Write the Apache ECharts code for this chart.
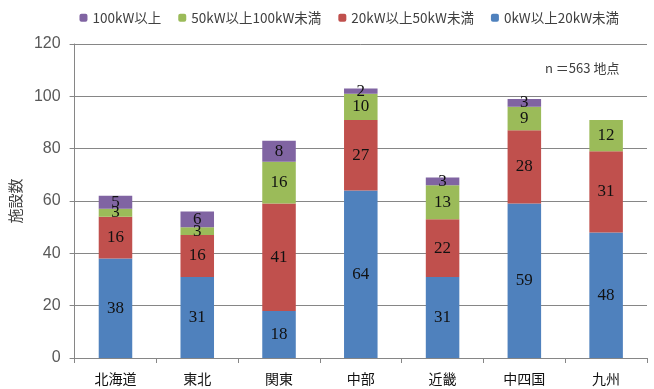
<!DOCTYPE html>
<html><head><meta charset="utf-8">
<script src="https://cdn.jsdelivr.net/npm/echarts@6/dist/echarts.min.js"></script>
<style>html,body{margin:0;padding:0;background:#fff}#c{width:654px;height:389px}</style>
</head><body><div id="c"></div>
<script>
const categories = ['北海道','東北','関東','中部','近畿','中四国','九州'];
const s0to20 = [38,31,18,64,31,59,48];
const s20to50 = [16,16,41,27,22,28,31];
const s50to100 = [3,3,16,10,13,9,12];
const s100up = [5,6,8,2,3,3,0];
const seriesNames = ['0kW以上20kW未満','20kW以上50kW未満','50kW以上100kW未満','100kW以上'];
const colors = ['#4F81BD','#C0504D','#9BBB59','#8064A2'];
const yTicks = {min:0,max:120,interval:20};

const chart = echarts.init(document.getElementById('c'));
const data = [s0to20, s20to50, s50to100, s100up];
const labelStyle = {show:true, position:'inside', color:'#111', fontFamily:'Liberation Serif, DejaVu Serif, serif', fontSize:17,
  formatter: p => p.value ? String(p.value) : ''};
chart.setOption({
  animation:false,
  legend:{top:6,right:30,itemWidth:8,itemHeight:8,itemGap:17,
    textStyle:{fontSize:13.5,color:'#404040',fontFamily:'Noto Sans CJK JP, sans-serif'},
    data:['100kW以上','50kW以上100kW未満','20kW以上50kW未満','0kW以上20kW未満']},
  grid:{left:69,right:7,top:44,bottom:31},
  xAxis:{type:'category',data:categories,
    axisLine:{lineStyle:{color:'#868686'}},
    axisTick:{show:true,length:5,lineStyle:{color:'#868686'}},
    axisLabel:{fontSize:14,color:'#111',margin:14,fontFamily:'Noto Sans CJK JP, sans-serif'}},
  yAxis:{type:'value',min:yTicks.min,max:yTicks.max,interval:yTicks.interval,
    name:'施設数',nameLocation:'middle',nameGap:44,nameRotate:90,
    nameTextStyle:{fontSize:15,color:'#404040',fontFamily:'Noto Sans CJK JP, sans-serif'},
    axisLine:{show:true,lineStyle:{color:'#868686'}},
    axisTick:{show:true,length:5,lineStyle:{color:'#868686'}},
    axisLabel:{fontSize:16,color:'#595959',margin:14,fontFamily:'Liberation Sans, Arial, sans-serif'},
    splitLine:{lineStyle:{color:'#868686',width:1}}},
  graphic:[{type:'text',left:545,top:62,style:{text:'n ＝563 地点',fontSize:13,fill:'#404040',fontFamily:'Noto Sans CJK JP, sans-serif'}}],
  series: data.map((d,i)=>({name:seriesNames[i],type:'bar',stack:'a',data:d,barWidth:'41%',
    itemStyle:{color:colors[i]},label:labelStyle}))
});
</script></body></html>
